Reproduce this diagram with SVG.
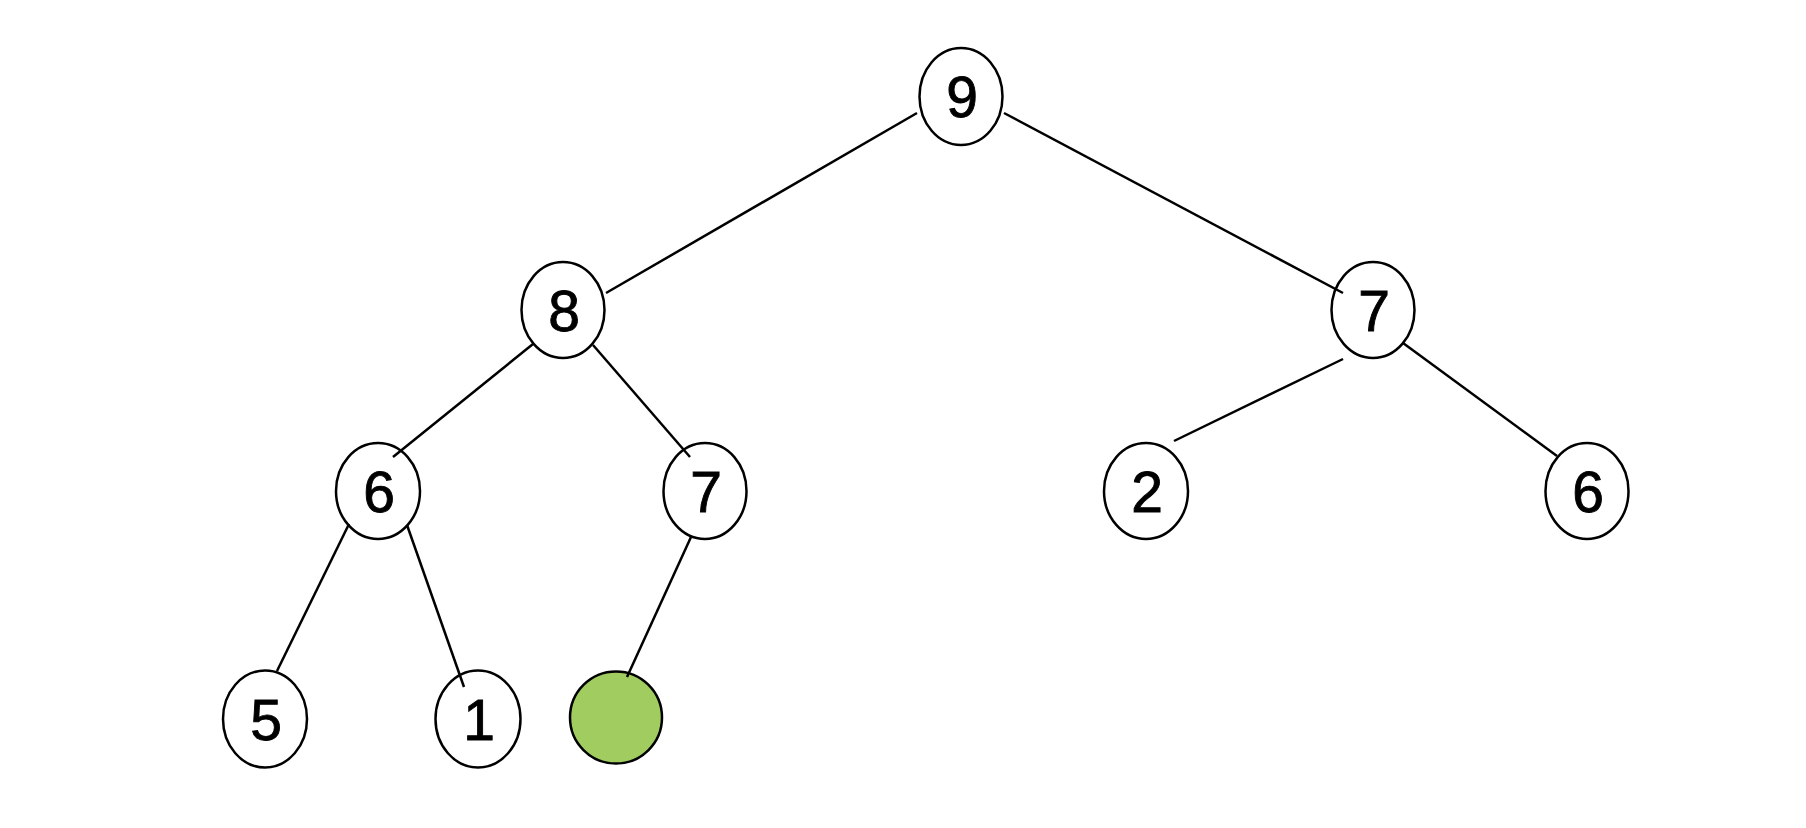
<svg xmlns="http://www.w3.org/2000/svg" width="1806" height="828" viewBox="0 0 1806 828">
<style>
.n ellipse{fill:#fff;stroke:#000;stroke-width:2.5}
.n text{font-family:"Liberation Sans",Arial,sans-serif;font-size:57px;fill:#000;stroke:#000;stroke-width:0.9;text-anchor:middle}
.e line{stroke:#000;stroke-width:2.5}
</style>
<rect width="1806" height="828" fill="#fff"/>
<g class="n" id="n9"><ellipse cx="961" cy="96.5" rx="41.5" ry="48.5"/><text x="962" y="117">9</text></g>
<g class="n" id="n8"><ellipse cx="563" cy="310" rx="41.5" ry="48"/><text x="564" y="330.5">8</text></g>
<g class="n" id="n7a"><ellipse cx="1373" cy="310" rx="41.5" ry="48"/><text x="1374" y="330.5">7</text></g>
<g class="n" id="n6a"><ellipse cx="378" cy="491" rx="42" ry="48"/><text x="379" y="511.5">6</text></g>
<g class="n" id="n7b"><ellipse cx="705" cy="491" rx="41.5" ry="48"/><text x="706" y="511.5">7</text></g>
<g class="n" id="n2"><ellipse cx="1146" cy="491" rx="42" ry="48"/><text x="1147" y="511.5">2</text></g>
<g class="n" id="n6b"><ellipse cx="1587" cy="491" rx="41.5" ry="48"/><text x="1588" y="511.5">6</text></g>
<g class="n" id="n5"><ellipse cx="265" cy="719" rx="42" ry="48.5"/><text x="266" y="739.5">5</text></g>
<g class="n" id="n1"><ellipse cx="478" cy="719" rx="42.5" ry="48.5"/><text x="479" y="739.5">1</text></g>
<g id="nGreen"><circle cx="616" cy="717.5" r="46" fill="#A1CC60" stroke="#000" stroke-width="2.5"/></g>
<g class="e" id="connectors">
<line x1="917" y1="113" x2="606" y2="293"/>
<line x1="1004" y1="113" x2="1343" y2="293"/>
<line x1="533" y1="344" x2="393" y2="457"/>
<line x1="593" y1="345" x2="690" y2="457"/>
<line x1="1343" y1="359" x2="1174" y2="441"/>
<line x1="1403" y1="343" x2="1557" y2="456"/>
<line x1="349" y1="524" x2="277" y2="671"/>
<line x1="407" y1="525" x2="464" y2="687"/>
<line x1="691" y1="537" x2="627" y2="677"/>
</g>
</svg>
